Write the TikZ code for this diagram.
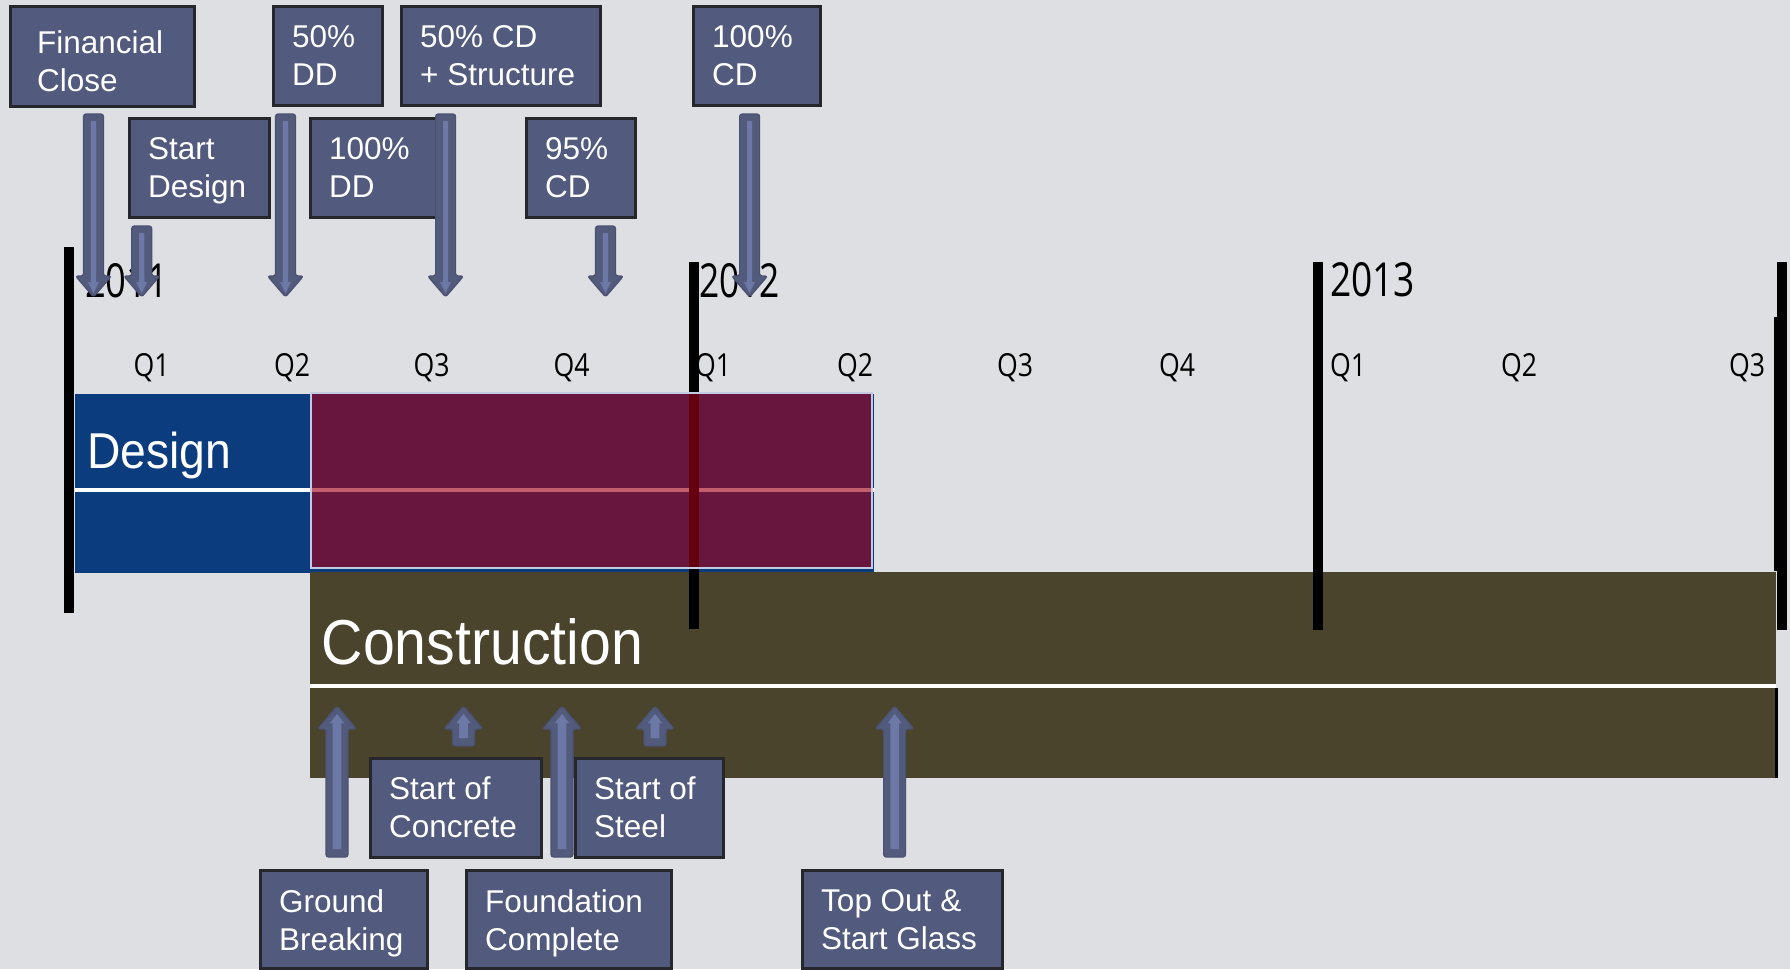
\documentclass[tikz,border=0pt]{standalone}
\usepackage{fontspec}
\usepackage{graphicx}
\setmainfont{Liberation Sans}
\newfontfamily\condfont{Open Sans}
\usetikzlibrary{calc}
\definecolor{bg}{HTML}{DEDFE3}
\definecolor{boxfill}{HTML}{525A7D}
\definecolor{boxborder}{HTML}{26272D}
\definecolor{arrowfill}{HTML}{535B7D}
\definecolor{arrowedge}{HTML}{4A5171}
\definecolor{arrowinner}{HTML}{6C78A6}
\definecolor{designblue}{HTML}{0A3C7E}
\definecolor{olive}{HTML}{4A442D}
\definecolor{purplefill}{RGB}{160,0,25}
\definecolor{purpleborder}{HTML}{C3CBE3}
\newcommand\downblock[2]{%
  \filldraw[arrowout] ($(#1)+(-10,0)$) -- ($(#1)+(10,0)$) -- ($(#2)+(10,-21)$) -- ($(#2)+(18,-21)$) -- (#2) -- ($(#2)+(-18,-21)$) -- ($(#2)+(-10,-21)$) -- cycle;
  \fill[arrowin] ($(#1)+(-2.6,7)$) -- ($(#1)+(2.6,7)$) -- ($(#2)+(2.6,-15)$) -- ($(#2)+(5.5,-15)$) -- ($(#2)+(0,-4)$) -- ($(#2)+(-5.5,-15)$) -- ($(#2)+(-2.6,-15)$) -- cycle;
}
\newcommand\upblock[2]{%
  \filldraw[arrowout] ($(#1)+(-11,0)$) -- ($(#1)+(11,0)$) -- ($(#2)+(11,23)$) -- ($(#2)+(19.5,23)$) -- (#2) -- ($(#2)+(-19.5,23)$) -- ($(#2)+(-11,23)$) -- cycle;
  \fill[arrowin] ($(#1)+(-4.3,-8)$) -- ($(#1)+(4.3,-8)$) -- ($(#2)+(4.3,17)$) -- ($(#2)+(7,17)$) -- ($(#2)+(0,8)$) -- ($(#2)+(-7,17)$) -- ($(#2)+(-4.3,17)$) -- cycle;
}
\begin{document}
\begin{tikzpicture}[x=1pt,y=-1pt,
  mbox/.style={draw=boxborder, line width=2.5pt, fill=boxfill, inner sep=0pt, anchor=north west},
  mtext/.style={text=white, font=\fontsize{31.5}{38}\selectfont, align=left, inner sep=0pt, anchor=north west},
  yearlbl/.style={inner sep=0pt, anchor=base west, font=\condfont\fontsize{40}{40}\selectfont},
  qlab/.style={inner sep=0pt, anchor=base, font=\condfont\fontsize{30}{30}\selectfont},
  yearline/.style={line width=9.5pt, black},
  bar/.style={inner sep=0pt, anchor=north west},
  arrowout/.style={fill=arrowfill, draw=arrowedge, line width=1.2pt, rounded corners=2.5pt, line join=round},
  arrowin/.style={fill=arrowinner}]
\useasboundingbox (0,0) rectangle (1790,969);
\fill[bg] (0,0) rectangle (1790,969);

% bars
\node[bar, fill=designblue, minimum width=799pt, minimum height=178.5pt] (design) at (74.5,394) {};
\node[bar, fill=olive, minimum width=1466pt, minimum height=206pt] (constr) at (310,572) {};
\draw[white, line width=3.5pt] (design.west |- 0,490) -- (design.east |- 0,490);
\draw[white, line width=3.5pt] (constr.west |- 0,686) -- (constr.east |- 0,686);

% year lines
\draw[yearline] (69,247) -- (69,613);
\draw[yearline] (694,262) -- (694,629);
\draw[yearline] (1318,262) -- (1318,630);
\draw[yearline] (1782,262) -- (1782,630);
\draw[line width=3pt] (1775.5,317) -- (1775.5,571);
\draw[line width=3pt] (1776,688) -- (1776,778);

% overlap of design and construction
\node[bar, draw=purpleborder, line width=2pt, fill=purplefill, fill opacity=0.63, minimum width=561pt, minimum height=175pt] (overlap) at (310,392) {};

% bar labels
\node[inner sep=0pt, anchor=base west, text=white] (designlbl) at (87,468) {\resizebox{144pt}{36.5pt}{Design}};
\node[inner sep=0pt, anchor=base west, text=white] (constrlbl) at (321.7,664) {\resizebox{321pt}{46pt}{Construction}};

% year labels
\node[yearlbl] (y11) at (85,297) {\resizebox{83pt}{34pt}{2011}};
\node[yearlbl] (y12) at (699,297) {\resizebox{81pt}{34pt}{2012}};
\node[yearlbl] (y13) at (1330,296) {\resizebox{85pt}{34pt}{2013}};

% quarter labels
\foreach \x/\t [count=\i] in {151.5/Q1, 292/Q2, 431.5/Q3, 571.5/Q4, 713/Q1, 855/Q2, 1015/Q3, 1177/Q4, 1348/Q1, 1519/Q2, 1747/Q3}
  \node[qlab] (q\i) at (\x,376.5) {\resizebox{36pt}{23pt}{\t}};

% top milestone boxes
\node[mbox, minimum width=184pt, minimum height=100pt] (fc) at (9,5) {};
\node[mtext] (fct) at ($(fc.north west)+(28,25)$) {Financial\\Close};
\node[mbox, minimum width=140pt, minimum height=99pt] (sd) at (128,117) {};
\node[mtext] (sdt) at ($(sd.north west)+(20,20)$) {Start\\Design};
\node[mbox, minimum width=109pt, minimum height=99pt] (dd50) at (272,5) {};
\node[mtext] (dd50t) at ($(dd50.north west)+(20,20)$) {50\%\\DD};
\node[mbox, minimum width=126pt, minimum height=99pt] (dd100) at (309,117) {};
\node[mtext] (dd100t) at ($(dd100.north west)+(20,20)$) {100\%\\DD};
\node[mbox, minimum width=199pt, minimum height=99pt] (cd50) at (400,5) {};
\node[mtext] (cd50t) at ($(cd50.north west)+(20,20)$) {50\% CD\\+ Structure};
\node[mbox, minimum width=109pt, minimum height=99pt] (cd95) at (525,117) {};
\node[mtext] (cd95t) at ($(cd95.north west)+(20,20)$) {95\%\\CD};
\node[mbox, minimum width=127pt, minimum height=99pt] (cd100) at (692,5) {};
\node[mtext] (cd100t) at ($(cd100.north west)+(20,20)$) {100\%\\CD};

% bottom milestone boxes
\node[mbox, minimum width=171pt, minimum height=99pt] (soc) at (369,757) {};
\node[mtext] (soct) at ($(soc.north west)+(20,19)$) {Start of\\Concrete};
\node[mbox, minimum width=148pt, minimum height=99pt] (sos) at (574,757) {};
\node[mtext] (sost) at ($(sos.north west)+(20,19)$) {Start of\\Steel};
\node[mbox, minimum width=167pt, minimum height=98pt] (gb) at (259,869) {};
\node[mtext] (gbt) at ($(gb.north west)+(20,20)$) {Ground\\Breaking};
\node[mbox, minimum width=205pt, minimum height=98pt] (fco) at (465,869) {};
\node[mtext] (fcot) at ($(fco.north west)+(20,20)$) {Foundation\\Complete};
\node[mbox, minimum width=200pt, minimum height=98pt] (to) at (801,869) {};
\node[mtext] (tot) at ($(to.north west)+(20,20)$) {Top Out \&\\Start Glass};

% arrow end points
\coordinate (fcA) at (93.5,114);   \coordinate (fcB) at (93.5,297);
\coordinate (sdA) at (141.7,226);  \coordinate (sdB) at (141.7,297);
\coordinate (dd50A) at (285.5,114); \coordinate (dd50B) at (285.5,297);
\coordinate (cd50A) at (445.6,114); \coordinate (cd50B) at (445.6,297);
\coordinate (cd95A) at (605.5,226); \coordinate (cd95B) at (605.5,297);
\coordinate (cd100A) at (749.6,114); \coordinate (cd100B) at (749.6,297);
\coordinate (gbA) at (337,857);   \coordinate (gbB) at (337,706);
\coordinate (socA) at (463.5,746); \coordinate (socB) at (463.5,706);
\coordinate (fcoA) at (562,857);  \coordinate (fcoB) at (562,706);
\coordinate (sosA) at (655,746);  \coordinate (sosB) at (655,706);
\coordinate (toA) at (894.6,857); \coordinate (toB) at (894.6,706);

\downblock{fcA}{fcB}
\downblock{sdA}{sdB}
\downblock{dd50A}{dd50B}
\downblock{cd50A}{cd50B}
\downblock{cd95A}{cd95B}
\downblock{cd100A}{cd100B}
\upblock{gbA}{gbB}
\upblock{socA}{socB}
\upblock{fcoA}{fcoB}
\upblock{sosA}{sosB}
\upblock{toA}{toB}
\end{tikzpicture}
\end{document}
